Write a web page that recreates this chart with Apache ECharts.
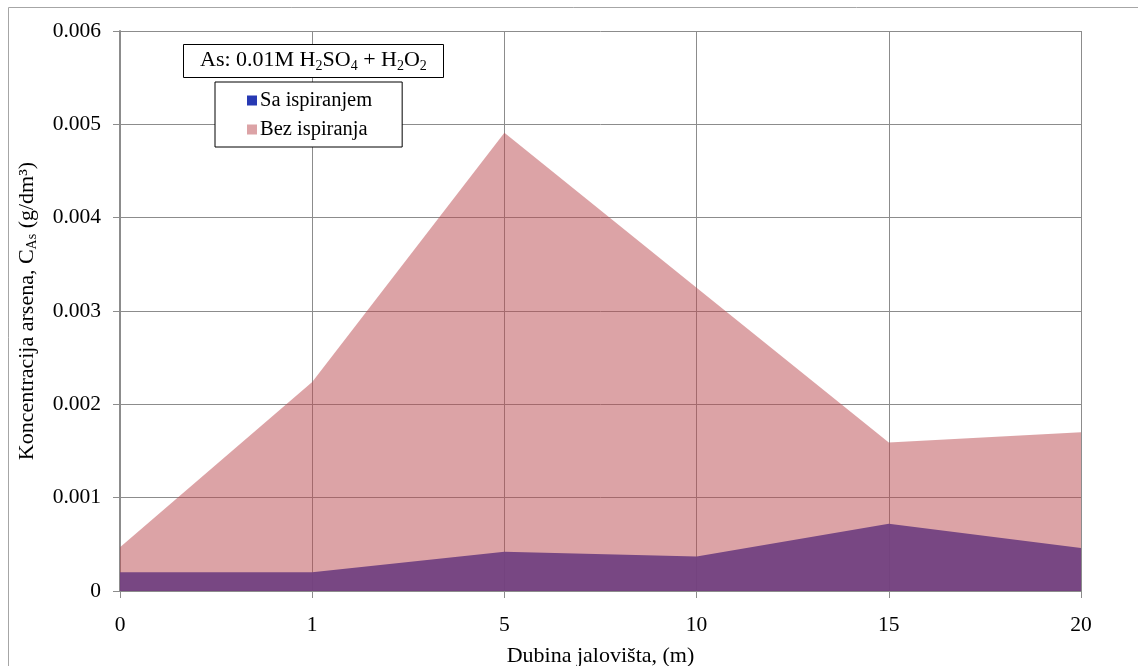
<!DOCTYPE html>
<html><head><meta charset="utf-8">
<script src="https://cdn.jsdelivr.net/npm/echarts@6/dist/echarts.min.js"></script>
<style>html,body{margin:0;padding:0;background:#fff}#c{width:1138px;height:666px}</style>
</head><body><div id="c"></div>
<script>
const categories = ['0', '1', '5', '10', '15', '20'];
const saIspiranjem = [0.0002, 0.0002, 0.00042, 0.00037, 0.00072, 0.00046];
const bezIspiranja = [0.00047, 0.00224, 0.00491, 0.00325, 0.00159, 0.0017];
const yTicks = { min: 0, max: 0.006, interval: 0.001 };

const FONT = '"Liberation Serif", "Times New Roman", serif';
const chart = echarts.init(document.getElementById('c'));
chart.setOption({
  animation: false,
  backgroundColor: '#fff',
  textStyle: { fontFamily: FONT, color: '#000' },
  graphic: [{
    type: 'rect', silent: true, z: -10,
    shape: { x: 8.5, y: 7.5, width: 1200, height: 700 },
    style: { fill: 'none', stroke: '#a6a6a6', lineWidth: 1 }
  }],
  title: {
    text: 'As: 0.01M H{s|2}SO{s|4} + H{s|2}O{s|2}',
    left: 183, top: 43,
    borderColor: '#000', borderWidth: 1,
    padding: [5, 17, 5, 17],
    backgroundColor: '#fff',
    textStyle: {
      fontFamily: FONT, fontSize: 22, fontWeight: 'normal', color: '#000',
      rich: { s: { fontFamily: FONT, fontSize: 14, color: '#000', verticalAlign: 'bottom', padding: [11, 0, 0, 0] } }
    }
  },
  legend: {
    orient: 'vertical', left: 215, top: 82,
    borderColor: '#000', borderWidth: 1, backgroundColor: '#fff',
    padding: [8, 30, 7, 32], itemGap: 8,
    itemWidth: 10, itemHeight: 10, icon: 'rect',
    textStyle: { fontFamily: FONT, fontSize: 20.5, color: '#000', padding: [0, 0, 0, -2] },
    data: ['Sa ispiranjem', 'Bez ispiranja']
  },
  grid: { left: 120, right: 57, top: 31, bottom: 75, containLabel: false, outerBoundsMode: 'none' },
  xAxis: {
    type: 'category', data: categories, boundaryGap: false,
    name: 'Dubina jalovišta, (m)', nameLocation: 'middle', nameGap: 54,
    nameTextStyle: { fontFamily: FONT, fontSize: 22, color: '#000' },
    axisLine: { lineStyle: { color: '#8c8c8c', width: 2 } },
    axisTick: { show: true, length: 7, lineStyle: { color: '#8c8c8c', width: 1 } },
    axisLabel: { fontFamily: FONT, fontSize: 21.5, color: '#000', margin: 23 },
    splitLine: { show: true, lineStyle: { color: '#8c8c8c', width: 1 } }
  },
  yAxis: {
    type: 'value', min: yTicks.min, max: yTicks.max, interval: yTicks.interval,
    name: 'Koncentracija arsena, C{s|As} (g/dm³)', nameLocation: 'middle', nameGap: 81, nameRotate: 90,
    nameTextStyle: {
      fontFamily: FONT, fontSize: 22, color: '#000',
      rich: { s: { fontFamily: FONT, fontSize: 14, color: '#000', verticalAlign: 'bottom', padding: [10, 0, 0, 0] } }
    },
    axisLine: { show: true, lineStyle: { color: '#8c8c8c', width: 2 } },
    axisTick: { show: true, length: 7, lineStyle: { color: '#8c8c8c', width: 1 } },
    axisLabel: { fontFamily: FONT, fontSize: 21.5, color: '#000', margin: 19,
      formatter: v => v === 0 ? '0' : v.toFixed(3) },
    splitLine: { show: true, lineStyle: { color: '#8c8c8c', width: 1 } }
  },
  series: [
    {
      name: 'Sa ispiranjem', type: 'line', data: saIspiranjem,
      symbol: 'none', lineStyle: { width: 0 },
      itemStyle: { color: 'rgb(39,57,179)' },
      areaStyle: { color: 'rgba(39,57,179,0.93)', opacity: 1 }
    },
    {
      name: 'Bez ispiranja', type: 'line', data: bezIspiranja,
      symbol: 'none', lineStyle: { width: 0 },
      itemStyle: { color: 'rgba(185,71,77,0.5)' },
      areaStyle: { color: 'rgba(185,71,77,0.5)', opacity: 1 }
    }
  ]
});
</script></body></html>
